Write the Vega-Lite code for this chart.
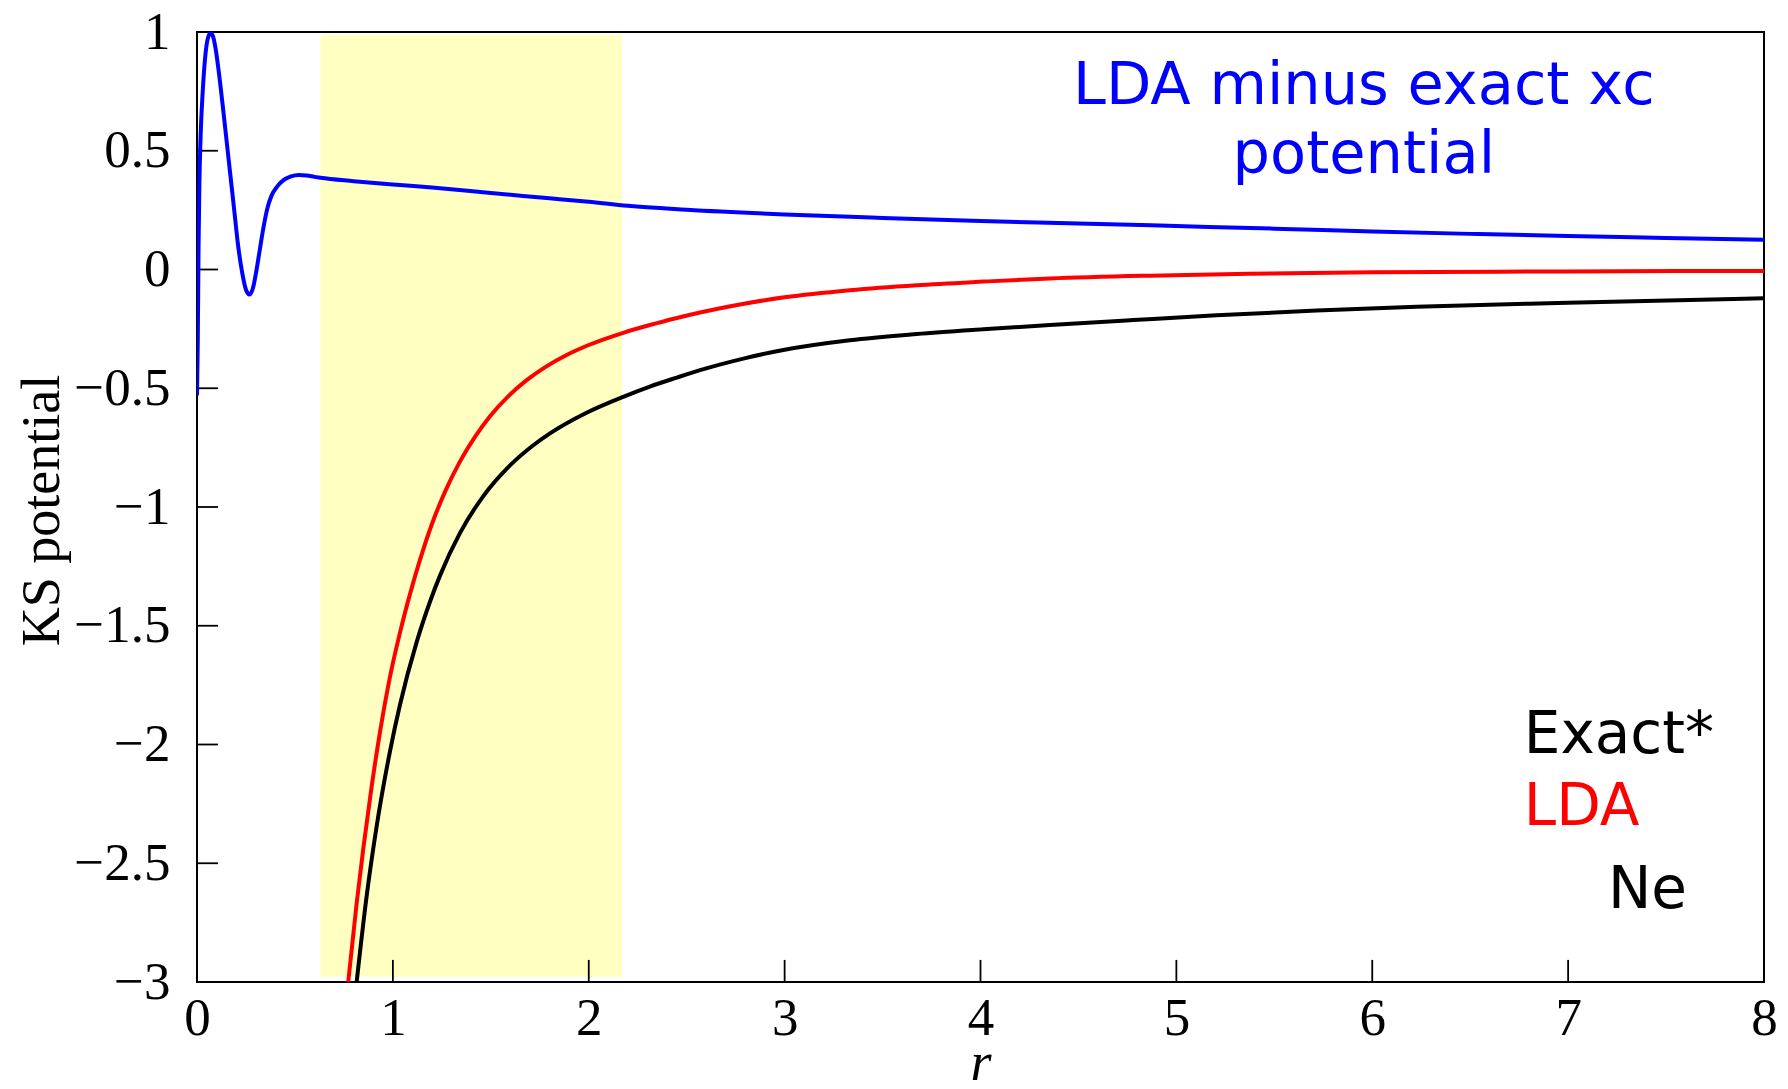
{
  "$schema": "https://vega.github.io/schema/vega-lite/v6.json",
  "width": 1567,
  "height": 950,
  "autosize": {"type": "none"},
  "padding": {"left": 197, "top": 32, "right": 24, "bottom": 107},
  "background": "white",
  "config": {
    "view": {"stroke": "black", "strokeWidth": 2},
    "axis": {
      "grid": false,
      "domain": false,
      "ticks": false,
      "labelFont": "Liberation Serif",
      "labelFontSize": 53,
      "labelColor": "black",
      "labelFlush": false,
      "labelOverlap": false,
      "titleFont": "Liberation Serif",
      "titleFontSize": 54,
      "titleColor": "black",
      "titleFontWeight": "normal"
    }
  },
  "datasets": {
    "band": [{"r": 0.63, "r2": 2.17, "v": -2.978, "v2": 0.988}],
    "xticks": [{"r": 1, "v": -3}, {"r": 2, "v": -3}, {"r": 3, "v": -3}, {"r": 4, "v": -3}, {"r": 5, "v": -3}, {"r": 6, "v": -3}, {"r": 7, "v": -3}],
    "yticks": [{"r": 0, "v": -2.5}, {"r": 0, "v": -2}, {"r": 0, "v": -1.5}, {"r": 0, "v": -1}, {"r": 0, "v": -0.5}, {"r": 0, "v": 0}, {"r": 0, "v": 0.5}],
    "curves": [
      {"series": "diff", "r": 0, "v": -0.53},
      {"series": "diff", "r": 0.004, "v": -0.3},
      {"series": "diff", "r": 0.008, "v": 0.1},
      {"series": "diff", "r": 0.012, "v": 0.35},
      {"series": "diff", "r": 0.018, "v": 0.55},
      {"series": "diff", "r": 0.03, "v": 0.76},
      {"series": "diff", "r": 0.045, "v": 0.92},
      {"series": "diff", "r": 0.06, "v": 0.985},
      {"series": "diff", "r": 0.07, "v": 0.995},
      {"series": "diff", "r": 0.08, "v": 0.985},
      {"series": "diff", "r": 0.095, "v": 0.93},
      {"series": "diff", "r": 0.11, "v": 0.84},
      {"series": "diff", "r": 0.13, "v": 0.7},
      {"series": "diff", "r": 0.15, "v": 0.55},
      {"series": "diff", "r": 0.17, "v": 0.4},
      {"series": "diff", "r": 0.19, "v": 0.25},
      {"series": "diff", "r": 0.21, "v": 0.1},
      {"series": "diff", "r": 0.23, "v": -0.01},
      {"series": "diff", "r": 0.25, "v": -0.085},
      {"series": "diff", "r": 0.268, "v": -0.105},
      {"series": "diff", "r": 0.285, "v": -0.08},
      {"series": "diff", "r": 0.3, "v": -0.02},
      {"series": "diff", "r": 0.32, "v": 0.08},
      {"series": "diff", "r": 0.34, "v": 0.18},
      {"series": "diff", "r": 0.36, "v": 0.26},
      {"series": "diff", "r": 0.38, "v": 0.31},
      {"series": "diff", "r": 0.41, "v": 0.35},
      {"series": "diff", "r": 0.44, "v": 0.375},
      {"series": "diff", "r": 0.48, "v": 0.392},
      {"series": "diff", "r": 0.52, "v": 0.398},
      {"series": "diff", "r": 0.56, "v": 0.396},
      {"series": "diff", "r": 0.6, "v": 0.39},
      {"series": "diff", "r": 0.63, "v": 0.386},
      {"series": "diff", "r": 0.8, "v": 0.372},
      {"series": "diff", "r": 1.0, "v": 0.358},
      {"series": "diff", "r": 1.2, "v": 0.345},
      {"series": "diff", "r": 1.5, "v": 0.322},
      {"series": "diff", "r": 1.8, "v": 0.3},
      {"series": "diff", "r": 2.0, "v": 0.285},
      {"series": "diff", "r": 2.2, "v": 0.268},
      {"series": "diff", "r": 2.5, "v": 0.252},
      {"series": "diff", "r": 3.0, "v": 0.232},
      {"series": "diff", "r": 3.5, "v": 0.217},
      {"series": "diff", "r": 4.0, "v": 0.204},
      {"series": "diff", "r": 4.5, "v": 0.194},
      {"series": "diff", "r": 5.0, "v": 0.183},
      {"series": "diff", "r": 5.5, "v": 0.172},
      {"series": "diff", "r": 6.0, "v": 0.16},
      {"series": "diff", "r": 6.5, "v": 0.15},
      {"series": "diff", "r": 7.0, "v": 0.141},
      {"series": "diff", "r": 7.5, "v": 0.133},
      {"series": "diff", "r": 8.0, "v": 0.125},
      {"series": "lda", "r": 0.772, "v": -3.0},
      {"series": "lda", "r": 0.815, "v": -2.669},
      {"series": "lda", "r": 0.849, "v": -2.438},
      {"series": "lda", "r": 0.892, "v": -2.175},
      {"series": "lda", "r": 0.934, "v": -1.949},
      {"series": "lda", "r": 0.985, "v": -1.716},
      {"series": "lda", "r": 1.036, "v": -1.53},
      {"series": "lda", "r": 1.087, "v": -1.368},
      {"series": "lda", "r": 1.138, "v": -1.224},
      {"series": "lda", "r": 1.206, "v": -1.057},
      {"series": "lda", "r": 1.27, "v": -0.929},
      {"series": "lda", "r": 1.343, "v": -0.808},
      {"series": "lda", "r": 1.42, "v": -0.704},
      {"series": "lda", "r": 1.496, "v": -0.618},
      {"series": "lda", "r": 1.59, "v": -0.533},
      {"series": "lda", "r": 1.683, "v": -0.466},
      {"series": "lda", "r": 1.78, "v": -0.41},
      {"series": "lda", "r": 1.887, "v": -0.36},
      {"series": "lda", "r": 2.0, "v": -0.318},
      {"series": "lda", "r": 2.176, "v": -0.2665},
      {"series": "lda", "r": 2.312, "v": -0.2336},
      {"series": "lda", "r": 2.45, "v": -0.204},
      {"series": "lda", "r": 2.568, "v": -0.181},
      {"series": "lda", "r": 2.653, "v": -0.166},
      {"series": "lda", "r": 2.8, "v": -0.143},
      {"series": "lda", "r": 3.0, "v": -0.117},
      {"series": "lda", "r": 3.333, "v": -0.087},
      {"series": "lda", "r": 3.674, "v": -0.066},
      {"series": "lda", "r": 4.014, "v": -0.051},
      {"series": "lda", "r": 4.354, "v": -0.038},
      {"series": "lda", "r": 4.865, "v": -0.026},
      {"series": "lda", "r": 5.375, "v": -0.018},
      {"series": "lda", "r": 6.0, "v": -0.012},
      {"series": "lda", "r": 7.0, "v": -0.008},
      {"series": "lda", "r": 8.0, "v": -0.006},
      {"series": "exact", "r": 0.815, "v": -3.0},
      {"series": "exact", "r": 0.866, "v": -2.639},
      {"series": "exact", "r": 0.917, "v": -2.345},
      {"series": "exact", "r": 0.985, "v": -2.03},
      {"series": "exact", "r": 1.036, "v": -1.834},
      {"series": "exact", "r": 1.121, "v": -1.57},
      {"series": "exact", "r": 1.189, "v": -1.4},
      {"series": "exact", "r": 1.24, "v": -1.29},
      {"series": "exact", "r": 1.343, "v": -1.109},
      {"series": "exact", "r": 1.461, "v": -0.955},
      {"series": "exact", "r": 1.598, "v": -0.825},
      {"series": "exact", "r": 1.717, "v": -0.74},
      {"series": "exact", "r": 1.802, "v": -0.69},
      {"series": "exact", "r": 1.989, "v": -0.603},
      {"series": "exact", "r": 2.176, "v": -0.536},
      {"series": "exact", "r": 2.312, "v": -0.493},
      {"series": "exact", "r": 2.45, "v": -0.455},
      {"series": "exact", "r": 2.568, "v": -0.424},
      {"series": "exact", "r": 2.8, "v": -0.373},
      {"series": "exact", "r": 2.993, "v": -0.339},
      {"series": "exact", "r": 3.333, "v": -0.298},
      {"series": "exact", "r": 3.674, "v": -0.272},
      {"series": "exact", "r": 4.014, "v": -0.252},
      {"series": "exact", "r": 4.354, "v": -0.234},
      {"series": "exact", "r": 4.78, "v": -0.213},
      {"series": "exact", "r": 5.205, "v": -0.193},
      {"series": "exact", "r": 5.716, "v": -0.173},
      {"series": "exact", "r": 6.226, "v": -0.157},
      {"series": "exact", "r": 7.0, "v": -0.14},
      {"series": "exact", "r": 8.0, "v": -0.121}
    ],
    "notesCenter": [
      {"label": "LDA minus exact xc", "series": "diff", "r": 5.957, "v": 0.697},
      {"label": "potential", "series": "diff", "r": 5.957, "v": 0.406}
    ],
    "notesLeft": [
      {"label": "Exact*", "series": "exact", "r": 6.774, "v": -2.036},
      {"label": "LDA", "series": "lda", "r": 6.774, "v": -2.339},
      {"label": "Ne", "series": "exact", "r": 7.203, "v": -2.688}
    ]
  },
  "encoding": {
    "x": {
      "field": "r",
      "type": "quantitative",
      "title": "r",
      "scale": {"domain": [0, 8], "nice": false, "zero": false},
      "axis": {
        "values": [0, 1, 2, 3, 4, 5, 6, 7, 8],
        "format": "~g",
        "labelPadding": 10,
        "labelAngle": 0,
        "titleFontStyle": "italic",
        "titleY": 97,
        "titleBaseline": "alphabetic"
      }
    },
    "y": {
      "field": "v",
      "type": "quantitative",
      "title": "KS potential",
      "scale": {"domain": [-3, 1], "nice": false, "zero": false},
      "axis": {
        "values": [-3, -2.5, -2, -1.5, -1, -0.5, 0, 0.5, 1],
        "format": "~g",
        "labelPadding": 27,
        "titleX": -139,
        "titleY": 478,
        "titleBaseline": "alphabetic"
      }
    }
  },
  "layer": [
    {
      "data": {"name": "band"},
      "mark": {"type": "rect", "color": "#ffffc2"},
      "encoding": {
        "x2": {"field": "r2"},
        "y2": {"field": "v2"}
      }
    },
    {
      "data": {"name": "xticks"},
      "mark": {"type": "rule", "strokeWidth": 1.8, "color": "#000000"},
      "encoding": {
        "y2": {"datum": -2.907}
      }
    },
    {
      "data": {"name": "yticks"},
      "mark": {"type": "rule", "strokeWidth": 1.8, "color": "#000000"},
      "encoding": {
        "x2": {"datum": 0.107}
      }
    },
    {
      "data": {"name": "curves"},
      "mark": {"type": "line", "strokeWidth": 4, "interpolate": "monotone", "clip": true},
      "encoding": {
        "color": {
          "field": "series",
          "type": "nominal",
          "scale": {"domain": ["diff", "lda", "exact"], "range": ["#0000ff", "#ff0000", "#000000"]},
          "legend": null
        }
      }
    },
    {
      "data": {"name": "notesCenter"},
      "mark": {"type": "text", "font": "DejaVu Sans", "fontSize": 59, "align": "center", "baseline": "alphabetic"},
      "encoding": {
        "text": {"field": "label"},
        "color": {"field": "series", "type": "nominal", "legend": null}
      }
    },
    {
      "data": {"name": "notesLeft"},
      "mark": {"type": "text", "font": "DejaVu Sans", "fontSize": 58, "align": "left", "baseline": "alphabetic"},
      "encoding": {
        "text": {"field": "label"},
        "color": {"field": "series", "type": "nominal", "legend": null}
      }
    }
  ]
}
